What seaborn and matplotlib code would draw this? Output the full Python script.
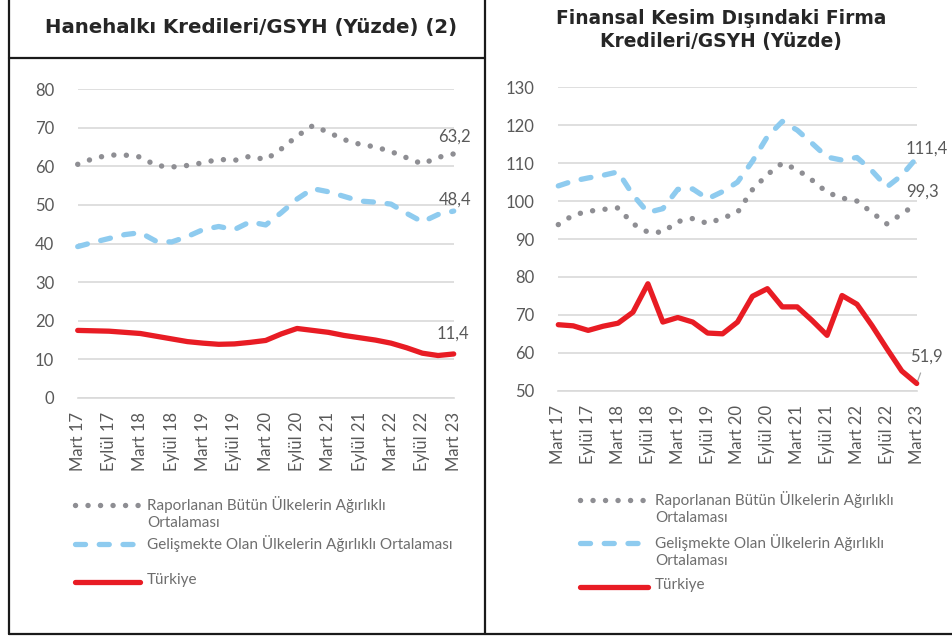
import matplotlib.pyplot as plt
import pandas as pd
import seaborn as sns
from matplotlib.lines import Line2D

# quarters, Mart 17 .. Mart 23
quarters = ['Mart 17', 'Haziran 17', 'Eylül 17', 'Aralık 17',
            'Mart 18', 'Haziran 18', 'Eylül 18', 'Aralık 18',
            'Mart 19', 'Haziran 19', 'Eylül 19', 'Aralık 19',
            'Mart 20', 'Haziran 20', 'Eylül 20', 'Aralık 20',
            'Mart 21', 'Haziran 21', 'Eylül 21', 'Aralık 21',
            'Mart 22', 'Haziran 22', 'Eylül 22', 'Aralık 22',
            'Mart 23']

# household credit / GDP
hh_all = [60.5, 62.0, 62.9, 62.9, 62.4, 60.2, 59.8, 60.2, 60.9, 61.8, 61.5, 62.6, 61.7,
          64.5, 67.8, 70.5, 68.8, 66.9, 65.7, 65.0, 63.8, 62.2, 60.6, 62.3, 63.2]
hh_em = [39.2, 40.3, 41.3, 42.3, 42.8, 40.6, 40.4, 41.8, 43.6, 44.4, 43.6, 45.6, 44.8,
         48.0, 51.5, 54.2, 53.4, 52.2, 51.0, 50.7, 50.2, 47.8, 45.6, 47.5, 48.4]
hh_tr = [17.5, 17.4, 17.3, 17.0, 16.7, 16.0, 15.3, 14.6, 14.2, 13.9, 14.0, 14.4, 14.9,
         16.6, 18.0, 17.5, 17.0, 16.2, 15.6, 15.0, 14.2, 13.0, 11.6, 11.0, 11.4]

# non-financial corporate credit / GDP
nf_all = [93.8, 96.3, 97.3, 97.8, 98.2, 94.0, 91.8, 91.8, 94.6, 95.4, 94.1, 95.5, 97.0,
          103.0, 107.0, 110.0, 108.3, 105.5, 102.3, 100.8, 100.0, 97.0, 94.0, 96.6, 99.3]
nf_em = [104.0, 105.3, 106.1, 106.8, 107.7, 101.6, 97.0, 98.0, 103.1, 103.2, 100.6, 102.5, 105.0,
         110.5, 117.0, 121.0, 118.7, 115.2, 111.6, 110.8, 111.5, 108.0, 103.7, 106.8, 111.4]
nf_tr = [67.4, 67.1, 65.9, 67.0, 67.8, 70.7, 78.2, 68.1, 69.3, 68.1, 65.2, 65.0, 68.1,
         74.9, 76.9, 72.1, 72.1, 68.5, 64.6, 75.1, 72.8, 67.2, 61.1, 55.2, 51.9]

tick_labels = quarters[::2]
titles = ['Hanehalkı Kredileri/GSYH (Yüzde) (2)',
          'Finansal Kesim Dışındaki Firma\nKredileri/GSYH (Yüzde)']
legend_left = ['Raporlanan Bütün Ülkelerin Ağırlıklı\nOrtalaması',
               'Gelişmekte Olan Ülkelerin Ağırlıklı Ortalaması',
               'Türkiye']
legend_right = ['Raporlanan Bütün Ülkelerin Ağırlıklı\nOrtalaması',
                'Gelişmekte Olan Ülkelerin Ağırlıklı\nOrtalaması',
                'Türkiye']

GRAY = '#8e8e93'
BLUE = '#8ecbef'
RED = '#e81c24'
GRID = '#d9d9d9'
TXT = '#595959'

sns.set_style('white')
plt.rcParams['font.family'] = ['Lato', 'DejaVu Sans']

W, H = 952, 636
fig = plt.figure(figsize=(W / 100, H / 100), dpi=100)


def fx(x):
    return x / W


def fy(y):
    return 1 - y / H


styles = [
    dict(color=GRAY, linewidth=3.9, linestyle=(0, (0.01, 2.3)), dash_capstyle='round'),
    dict(color=BLUE, linewidth=3.8, linestyle=(0, (1.9, 2.6)), dash_capstyle='round'),
    dict(color=RED, linewidth=3.8, linestyle='-', solid_capstyle='round'),
]


def draw_panel(ax, series, ylim, labels_off):
    df = pd.DataFrame({'q': range(len(quarters))})
    for i, (vals, st) in enumerate(zip(series, styles)):
        df['v'] = vals
        sns.lineplot(data=df, x='q', y='v', ax=ax, zorder=3 + i, clip_on=False, **st)
        dx, dy, leader = labels_off[i]
        txt = f'{vals[-1]:.1f}'.replace('.', ',')
        arrow = dict(arrowstyle='-', color='#a6a6a6', lw=0.9, shrinkA=4, shrinkB=2) if leader else None
        ax.annotate(txt, xy=(len(vals) - 1, vals[-1]), xytext=(dx, dy), textcoords='offset pixels',
                    ha='center', va='center', fontsize=12, color=TXT, arrowprops=arrow)
    ax.set_xlim(0, len(quarters) - 1)
    ax.set_ylim(*ylim)
    ax.set_yticks(range(ylim[0], ylim[1] + 1, 10))
    ax.set_xticks(range(0, len(quarters), 2))
    ax.set_xticklabels(tick_labels, rotation=90)
    ax.set_xlabel('')
    ax.set_ylabel('')
    ax.grid(axis='y', color=GRID, linewidth=1.2)
    ax.set_axisbelow(True)
    for s in ['top', 'right', 'left']:
        ax.spines[s].set_visible(False)
    ax.spines['bottom'].set_color(GRID)
    ax.spines['bottom'].set_linewidth(1.2)
    ax.tick_params(axis='x', length=5, width=1.2, color=GRID, pad=5, labelsize=12, labelcolor=TXT)
    ax.tick_params(axis='y', length=0, pad=17, labelsize=12, labelcolor=TXT)


ax1 = fig.add_axes([fx(77.7), fy(398), fx(453.7 - 77.7), (398 - 89) / H])
draw_panel(ax1, [hh_all, hh_em, hh_tr], (0, 80),
           [(1, 17, False), (1, 11, False), (-1, 20, False)])

ax2 = fig.add_axes([fx(558.3), fy(390.7), fx(916.7 - 558.3), (390.7 - 87.3) / H])
draw_panel(ax2, [nf_all, nf_em, nf_tr], (50, 130),
           [(6, 12, False), (10, 9, False), (10, 27, True)])

# titles
fig.text(fx(251), fy(28), titles[0], ha='center', va='center', fontsize=14.2,
         fontweight='bold', family='DejaVu Sans', color='#262626')
fig.text(fx(721), fy(30), titles[1], ha='center', va='center', fontsize=13.4,
         fontweight='bold', family='DejaVu Sans', color='#262626', linespacing=1.3)


# legends, Excel style: handle on the first text line
def draw_legend(x0, x1, rows_y, labels):
    for (y, lab), st in zip(zip(rows_y, labels), styles):
        fig.add_artist(Line2D([fx(x0), fx(x1)], [fy(y), fy(y)], transform=fig.transFigure, **st))
        fig.text(fx(x1 + 7), fy(y - 9), lab, ha='left', va='top', fontsize=11, color='#6e6e6e',
                 linespacing=1.25)


draw_legend(75, 140, [505, 544, 582], legend_left)
draw_legend(580, 648, [500, 543, 587], legend_right)

# table frame
frame = dict(color='#1a1a1a', linewidth=1.6, transform=fig.transFigure)
fig.add_artist(Line2D([fx(9), fx(9)], [fy(0), fy(634)], **frame))
fig.add_artist(Line2D([fx(485.5), fx(485.5)], [fy(0), fy(634)], **frame))
fig.add_artist(Line2D([fx(9), fx(485.5)], [fy(58), fy(58)], **frame))
fig.add_artist(Line2D([fx(9), fx(952)], [fy(634), fy(634)], **frame))

fig.savefig('out.png', dpi=100)
